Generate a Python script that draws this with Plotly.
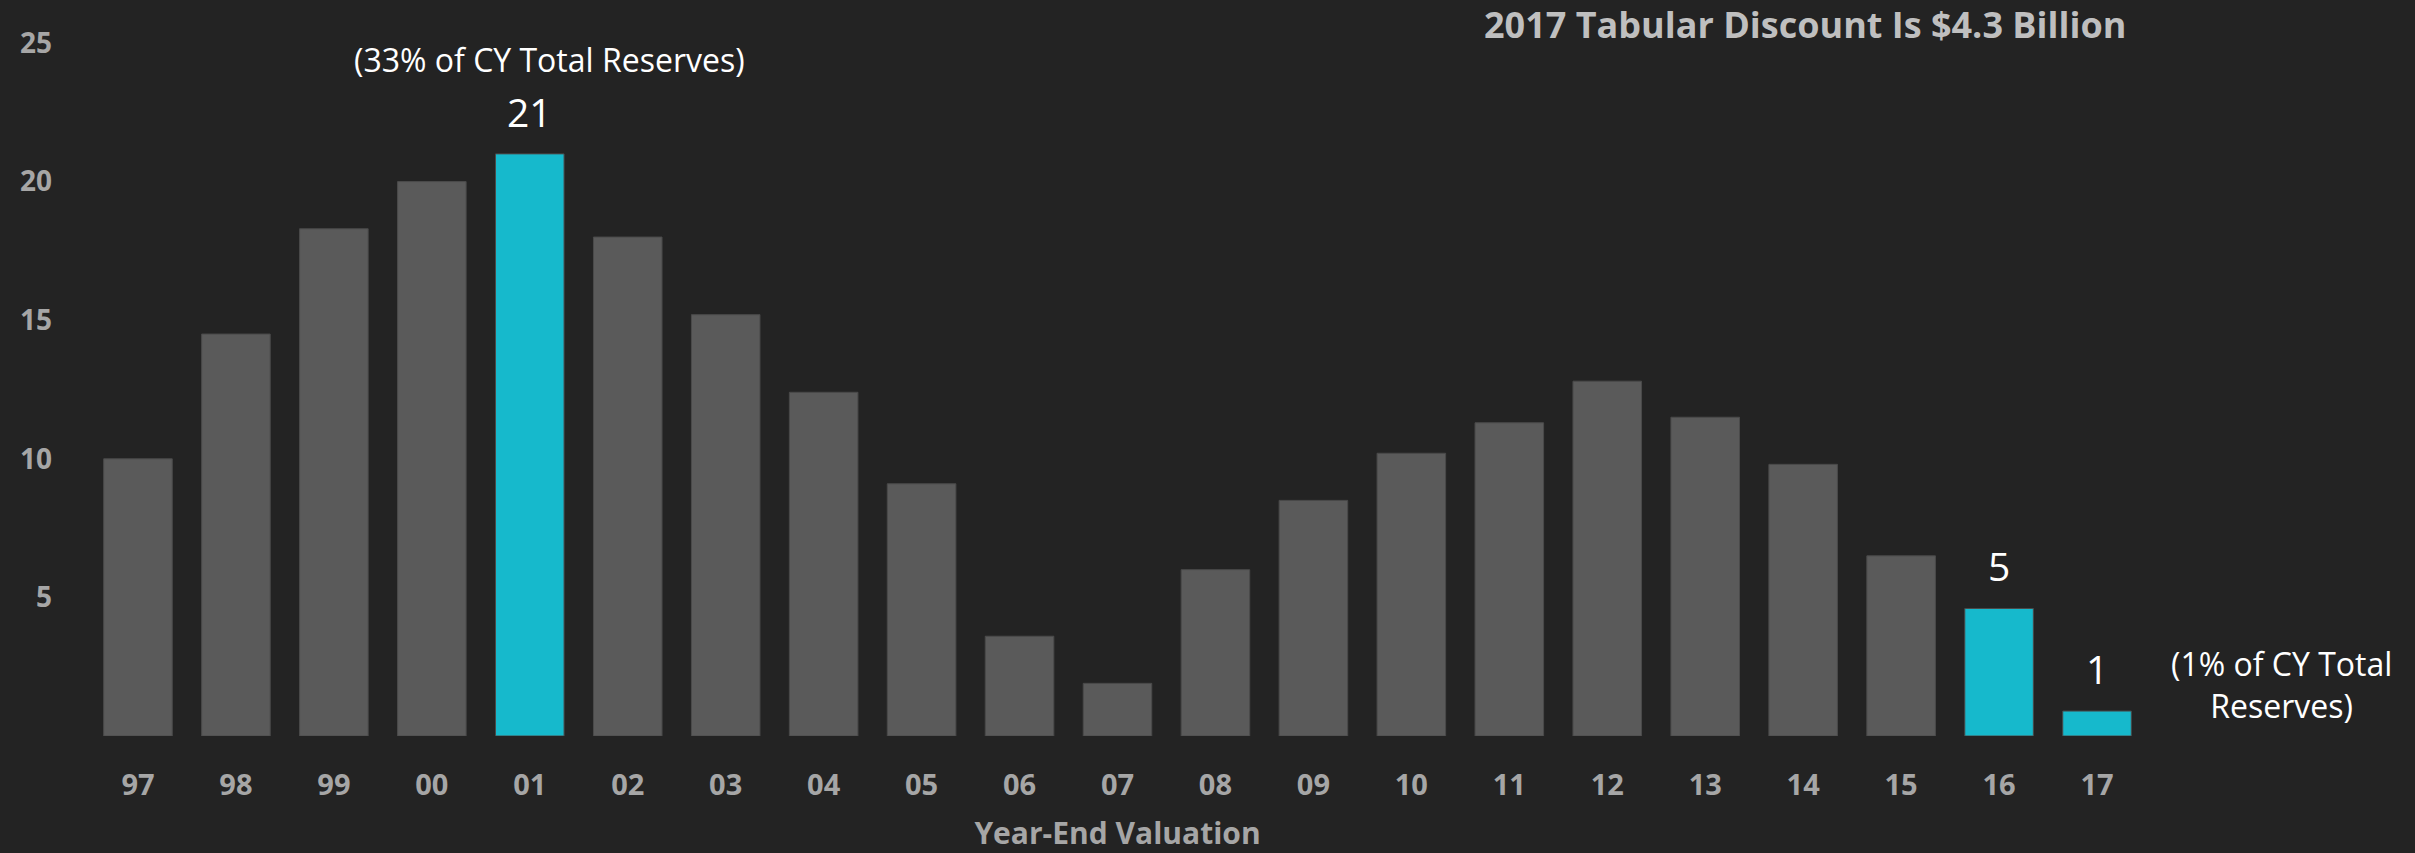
import plotly.graph_objects as go

years = ["97", "98", "99", "00", "01", "02", "03", "04", "05", "06", "07",
         "08", "09", "10", "11", "12", "13", "14", "15", "16", "17"]
discount = [10.0, 14.5, 18.3, 20.0, 21.0, 18.0, 15.2, 12.4, 9.1, 3.6, 1.9,
            6.0, 8.5, 10.2, 11.3, 12.8, 11.5, 9.8, 6.5, 4.6, 0.9]
highlight = ["01", "16", "17"]
y_ticks = [5, 10, 15, 20, 25]

GRAY = "#5a5a5a"
CYAN = "#16b9cc"
BG = "#232323"
FONT = "Open Sans"

colors = [CYAN if yr in highlight else GRAY for yr in years]

fig = go.Figure()
fig.add_trace(go.Bar(x=years, y=discount,
                     marker=dict(color=colors, line=dict(color="#4a4a4a", width=1)),
                     hoverinfo="x+y"))

# value labels over the highlighted bars (category axis -> use the index)
for i, (yr, val) in enumerate(zip(years, discount)):
    if yr in highlight:
        fig.add_annotation(x=i, y=val, text=f"{val:.0f}", showarrow=False,
                           xanchor="center", yanchor="bottom", yshift=14,
                           font=dict(family=FONT, size=39, color="white"))

fig.add_annotation(x=years.index("01"), y=1.0, yref="paper", text="(33% of CY Total Reserves)",
                   showarrow=False, xanchor="center", xshift=20, yanchor="middle", yshift=-16,
                   font=dict(family=FONT, size=32, color="white"))
fig.add_annotation(x=1.066, xref="paper", y=0.074, yref="paper",
                   text="(1% of CY Total<br>Reserves)", showarrow=False,
                   xanchor="center", yanchor="middle", align="center",
                   font=dict(family=FONT, size=32, color="white"))
fig.add_annotation(x=0.834, xref="paper", y=1.026, yref="paper",
                   text="<b>2017 Tabular Discount Is $4.3 Billion</b>", showarrow=False,
                   xanchor="center", yanchor="middle",
                   font=dict(family=FONT, size=36, color="#bfbfbf"))

fig.update_layout(
    width=2415, height=853,
    paper_bgcolor=BG, plot_bgcolor=BG,
    margin=dict(l=89, r=269, t=43, b=117),
    bargap=0.3,
    showlegend=False,
    xaxis=dict(type="category", showgrid=False, zeroline=False, showline=False,
               ticks="", ticklabelstandoff=29, automargin=False,
               tickfont=dict(family=FONT, size=29, color="#a6a6a6", weight="bold"),
               title=dict(text="<b>Year-End Valuation</b>", standoff=23,
                          font=dict(family=FONT, size=30, color="#a6a6a6"))),
    yaxis=dict(range=[0, 25], tickvals=y_ticks, showgrid=False, zeroline=False,
               showline=False, ticks="", ticklabelstandoff=36, automargin=False,
               tickfont=dict(family=FONT, size=28, color="#a6a6a6", weight="bold")),
)

fig.write_html("out.html", config={"displayModeBar": False},
               post_script="document.body.style.margin='0';")
